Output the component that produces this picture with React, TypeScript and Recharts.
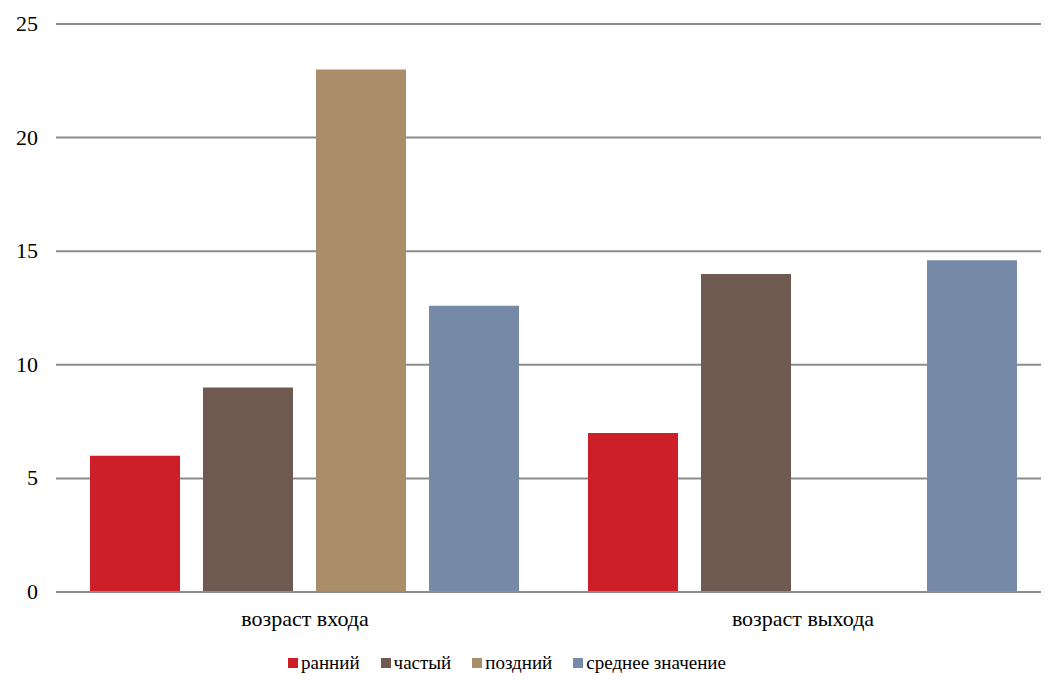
import React from 'react';
import { BarChart, Bar, XAxis, YAxis, CartesianGrid, Legend } from 'recharts';

const categories = ['возраст входа', 'возраст выхода'];
const early = [6, 7];
const frequent = [9, 14];
const late = [23, 0];
const average = [12.6, 14.6];
const seriesNames = ['ранний', 'частый', 'поздний', 'среднее значение'];
const seriesKeys = ['early', 'frequent', 'late', 'average'];
const colors = ['#CD1F27', '#6E5A51', '#AA8E6A', '#768AA8'];
const yTicks = [0, 5, 10, 15, 20, 25];

const data = categories.map((c, i) => ({
  name: c,
  early: early[i],
  frequent: frequent[i],
  late: late[i],
  average: average[i],
}));

const FONT = 'Liberation Serif';

const CustomLegend = () => (
  <div style={{ display: 'flex', alignItems: 'center', height: 28, paddingLeft: 287, fontFamily: FONT, fontSize: 19, color: '#000' }}>
    {seriesNames.map((n, i) => (
      <div key={n} style={{ display: 'flex', alignItems: 'center', marginRight: 21 }}>
        <span style={{ display: 'inline-block', width: 10, height: 10, background: colors[i], marginRight: 3 }} />
        <span style={{ fontFamily: FONT }}>{n}</span>
      </div>
    ))}
  </div>
);

const XTick = (props: any) => {
  const { x, y, payload } = props;
  return (
    <text x={x} y={y} dy={15} textAnchor="middle" fontFamily={FONT} fontSize={22} fill="#000">
      {payload.value}
    </text>
  );
};

const YTick = (props: any) => {
  const { x, y, payload } = props;
  return (
    <text x={x} y={y} dy={7} textAnchor="end" fontFamily={FONT} fontSize={22} fill="#000">
      {payload.value}
    </text>
  );
};

export default function App() {
  return (
    <div style={{ margin: -8, width: 1049, height: 691, background: '#fff', fontFamily: FONT }}>
      <BarChart
        width={1049}
        height={691}
        data={data}
        margin={{ top: 24, right: -3, left: 1, bottom: 14 }}
        barCategoryGap={34}
        barGap={23}
      >
        <CartesianGrid vertical={false} stroke="#8c8c8c" strokeWidth={2} />
        <XAxis
          dataKey="name"
          height={57}
          tickSize={0}
          tickLine={false}
          tickMargin={19}
          axisLine={{ stroke: '#8c8c8c', strokeWidth: 2 }}
          tick={<XTick />}
        />
        <YAxis
          width={55}
          domain={[0, 25]}
          ticks={yTicks}
          tickSize={0}
          tickLine={false}
          tickMargin={18}
          axisLine={false}
          tick={<YTick />}
        />
        <Legend verticalAlign="bottom" content={<CustomLegend />} />
        {seriesKeys.map((k, i) => (
          <Bar key={k} dataKey={k} name={seriesNames[i]} fill={colors[i]} isAnimationActive={false} />
        ))}
      </BarChart>
    </div>
  );
}
